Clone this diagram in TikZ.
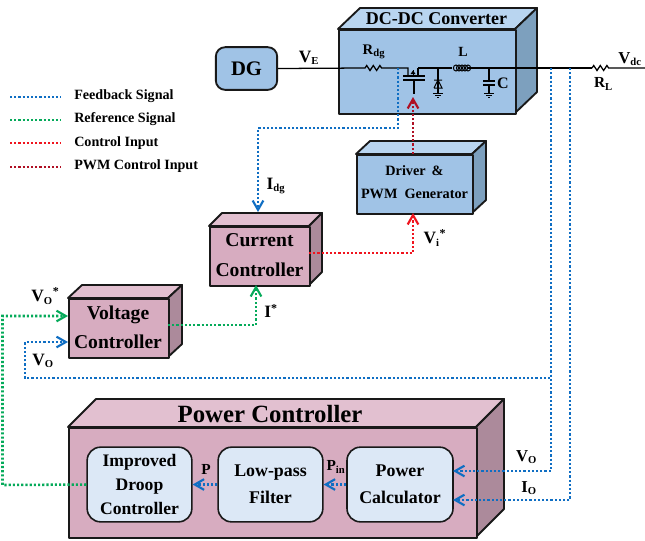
\documentclass[tikz,border=0pt]{standalone}
\usepackage{fontspec}
\setmainfont{Liberation Serif}[BoldFont={Liberation Serif Bold}]
\usetikzlibrary{arrows.meta,calc}
\definecolor{fbblue}{RGB}{15,110,195}
\definecolor{refgreen}{RGB}{5,170,90}
\definecolor{ctlred}{RGB}{240,20,30}
\definecolor{pwmred}{RGB}{175,15,35}
\definecolor{bluefront}{RGB}{160,195,230}
\definecolor{bluetop}{RGB}{185,213,240}
\definecolor{blueside}{RGB}{125,160,190}
\definecolor{pinkfront}{RGB}{215,172,192}
\definecolor{pinktop}{RGB}{226,192,208}
\definecolor{pinkside}{RGB}{172,138,155}
\definecolor{innerfill}{RGB}{220,232,246}
\tikzset{
  x=0.75pt,y=-0.75pt,
  cubeline/.style={draw=black!90,line width=1.4pt,line join=round},
  tips/.style={-{Straight Barb[length=7pt,width=8pt,line width=1.6pt]}},
  sig/.style={line width=1.9pt,dash pattern=on 1.6pt off 1.55pt},
  fb/.style={sig,draw=fbblue,tips},
  fbline/.style={sig,draw=fbblue},
  refsig/.style={sig,draw=refgreen,tips},
  ctl/.style={sig,draw=ctlred,tips},
  pwm/.style={sig,draw=pwmred,tips},
  wire/.style={draw=black,line width=0.95pt},
  thinwire/.style={draw=black,line width=0.75pt},
  lbl/.style={font=\bfseries,text=black,inner sep=0pt,align=center},
  inner box/.style={draw=black!90,line width=1.2pt,fill=innerfill,rounded corners=10pt,lbl},
  legendtxt/.style={lbl,anchor=west,font=\bfseries\fontsize{10.6}{11}\selectfont},
}
% name, x1,y1,x2,y2 (front face), dx,dy, colour prefix
\newcommand{\cubebox}[8]{%
  \path[cubeline,fill=#8top] (#2,#3) -- (#2+#6,#3-#7) -- (#4+#6,#3-#7) -- (#4,#3) -- cycle;
  \path[cubeline,fill=#8side] (#4,#3) -- (#4+#6,#3-#7) -- (#4+#6,#5-#7) -- (#4,#5) -- cycle;
  \node[cubeline,fill=#8front,rectangle,inner sep=0pt,minimum width={(#4-#2)*0.75pt},minimum height={(#5-#3)*0.75pt},anchor=north west] (#1) at (#2,#3) {};
}
\begin{document}
\begin{tikzpicture}
\useasboundingbox (0,0) rectangle (645,540);
\fill[white] (0,0) rectangle (645,540);
% ---------- boxes
\cubebox{conv}{338}{29}{515}{113}{22}{21}{blue}
\cubebox{drv}{356}{154}{472}{213}{14}{13}{blue}
\cubebox{cur}{209}{226}{309}{285}{13}{13}{pink}
\cubebox{volt}{68}{298}{168}{357}{14}{13}{pink}
\cubebox{pow}{68}{427}{476}{537}{28}{28}{pink}
\node[cubeline,fill=bluefront,rounded corners=7pt,minimum width=46pt,minimum height=32pt,lbl,font=\bfseries\fontsize{15.5}{15}\selectfont] (dg) at (246.5,68.5) {DG};
\node[inner box,minimum width=78.5pt,minimum height=56pt,font=\bfseries\fontsize{13.2}{18}\selectfont] (droop) at (139.5,484.5) {Improved\\Droop\\Controller};
\node[inner box,minimum width=78.5pt,minimum height=56pt,font=\bfseries\fontsize{13.4}{20}\selectfont] (lpf) at (270.5,484.5) {Low-pass\\Filter};
\node[inner box,minimum width=79.5pt,minimum height=56pt,font=\bfseries\fontsize{13.4}{20}\selectfont] (calc) at (400,484.5) {Power\\Calculator};
% ---------- titles in boxes
\node[lbl,font=\bfseries\fontsize{13.5}{14}\selectfont] (convt) at (436.5,19) {DC-DC Converter};
\node[lbl,font=\bfseries\fontsize{18.6}{18}\selectfont] (powt) at (270,414) {Power Controller};
\node[lbl,font=\bfseries\fontsize{10.7}{17.5}\selectfont] (drvt) at (414.5,182) {Driver~\,\&\\PWM~~Generator};
\node[lbl,font=\bfseries\fontsize{14.7}{22.5}\selectfont] (curt) at (259.5,255) {Current\\Controller};
\node[lbl,font=\bfseries\fontsize{14.7}{22}\selectfont] (voltt) at (118,327.5) {Voltage\\Controller};
% ---------- power wire and circuit
\coordinate (wR) at (645,68);
\coordinate (rdgA) at (363,68);
\coordinate (drain) at (408,68);
\coordinate (source) at (418,68);
\coordinate (ind) at (452,68);
\draw[wire] (dg.east) -- (rdgA) -- ++(2,0) -- ++(1.7,-2.5) -- ++(3.3,5) -- ++(3.3,-5) -- ++(3.3,5) -- ++(3.3,-5) -- ++(1.7,2.5) -- ++(2,0) -- (drain) -- (408,76);
\draw[wire] (source) -- (ind) (418,68) -- (418,76);
\draw[wire] (403,76) -- (425,76) (403,80) -- (425,80) (414,80) -- (414,94);
\fill[black] (413,70.5) -- (410.5,74) -- (415.5,74) -- cycle;
\draw[thinwire] (413,70) -- (413,76);
% diode
\coordinate (dtop) at (438,68);
\draw[wire] (dtop) -- (438,93);
\draw[thinwire] (434,80) -- (442,80) (434,88) -- (442,88) -- (438,80) -- (434,88);
\draw[thinwire] (433,93) -- (443,93) (435,95) -- (441,95) (437,97) -- (439,97);
% inductor
\foreach \i in {0,...,4} \draw[thinwire] (456+\i*3,68) circle[x radius=2.6,y radius=3];
\draw[wire] (468,68) -- (592,68);
% capacitor
\draw[wire] (489,68) -- (489,81) (483,81) -- (495,81) (483,85) -- (495,85) (489,85) -- (489,93);
\draw[thinwire] (484,93) -- (494,93) (486,95) -- (492,95) (488,97) -- (490,97);
% RL
\draw[wire] (592,68) -- ++(1.7,-2.5) -- ++(3.3,5) -- ++(3.3,-5) -- ++(3.3,5) -- ++(3.3,-5) -- ++(1.7,2.5) -- (wR);
% ---------- circuit labels
\node[lbl,font=\bfseries\fontsize{13}{13}\selectfont] (vE) at (309,58) {V\textsubscript{\fontsize{8}{8}\selectfont E}};
\node[lbl,font=\bfseries\fontsize{11}{11}\selectfont] (rdg) at (374,52) {R\textsubscript{\fontsize{8}{8}\selectfont dg}};
\node[lbl,font=\bfseries\fontsize{10.5}{10}\selectfont] (lL) at (463,52) {L};
\node[lbl,font=\bfseries\fontsize{12}{10}\selectfont] (lC) at (503,83) {C};
\node[lbl,font=\bfseries\fontsize{12.5}{13}\selectfont] (vdc) at (630,59) {V\textsubscript{\fontsize{8}{8}\selectfont dc}};
\node[lbl,font=\bfseries\fontsize{11.5}{12}\selectfont] (rL) at (603.5,84) {R\textsubscript{\fontsize{8}{8}\selectfont L}};
% ---------- signal junctions
\coordinate (jIdg) at (398,68);
\coordinate (jIdgB) at (258,128);
\coordinate (curIn) at (258,212);
\coordinate (jVo) at (551,68);
\coordinate (jVoB) at (25,378);
\coordinate (jIo) at (570,68);
\coordinate (gate) at (413,97);
\coordinate (drvOut) at (413,154);
\coordinate (drvIn) at (413,213);
\coordinate (curOut) at (309,253);
\coordinate (curInB) at (256,285);
\coordinate (voltOut) at (168,325);
\coordinate (voltIn) at (68,316);
\coordinate (voltFb) at (68,342);
\coordinate (jGr) at (2.5,485);
\coordinate (calcV) at (453,471);
\coordinate (calcI) at (453,500);
% ---------- signals
\draw[fb] (jIdg) |- (jIdgB) -- (curIn);
\draw[pwm] (drvOut) -- (gate);
\draw[ctl] (curOut) -| (drvIn);
\draw[refsig] (voltOut) -| (curInB);
\draw[refsig] (droop.west) -- (jGr) |- (voltIn);
\draw[fb] (jVo) |- (jVoB) |- (voltFb);
\draw[fb] (jVo) |- (calcV);
\draw[fb] (jIo) |- (calcI);
\draw[fb] (calc.west) -- (lpf.east);
\draw[fb] (lpf.west) -- (droop.east);
% ---------- signal labels
\node[lbl,font=\bfseries\fontsize{13}{13}\selectfont] (idg) at (276,186) {I\textsubscript{\fontsize{8}{8}\selectfont dg}};
\node[lbl,font=\bfseries\fontsize{13}{13}\selectfont] (vi) at (435,238) {V\textsubscript{\fontsize{8}{8}\selectfont i}\textsuperscript{\fontsize{9}{9}\selectfont *}};
\node[lbl,font=\bfseries\fontsize{13}{13}\selectfont] (ist) at (271,311) {I\textsuperscript{\fontsize{9}{9}\selectfont *}};
\node[lbl,font=\bfseries\fontsize{13}{13}\selectfont] (vost) at (45.5,296) {V\textsubscript{\fontsize{8}{8}\selectfont O}\textsuperscript{\fontsize{9}{9}\selectfont *}};
\node[lbl,font=\bfseries\fontsize{13}{13}\selectfont] (vo1) at (43,361) {V\textsubscript{\fontsize{8}{8}\selectfont O}};
\node[lbl,font=\bfseries\fontsize{11.5}{12}\selectfont] (pl) at (206,469) {P};
\node[lbl,font=\bfseries\fontsize{11.5}{12}\selectfont] (pin) at (336,467) {P\textsubscript{\fontsize{8}{8}\selectfont in}};
\node[lbl,font=\bfseries\fontsize{12.5}{13}\selectfont] (vo2) at (526.5,457) {V\textsubscript{\fontsize{8}{8}\selectfont O}};
\node[lbl,font=\bfseries\fontsize{12.5}{13}\selectfont] (io) at (529,488) {I\textsubscript{\fontsize{8}{8}\selectfont O}};
% ---------- legend
\coordinate (la) at (10,97); \coordinate (lb) at (61,97);
\coordinate (lc) at (10,120); \coordinate (ld) at (61,120);
\coordinate (le) at (10,143); \coordinate (lf) at (61,143);
\coordinate (lg) at (10,167); \coordinate (lh) at (61,167);
\draw[fbline] (la) -- (lb);
\draw[sig,draw=refgreen] (lc) -- (ld);
\draw[sig,draw=ctlred] (le) -- (lf);
\draw[sig,draw=pwmred] (lg) -- (lh);
\node[legendtxt] (l1) at (74,96) {Feedback Signal};
\node[legendtxt] (l2) at (74,119) {Reference Signal};
\node[legendtxt] (l3) at (74,143) {Control Input};
\node[legendtxt] (l4) at (74,166) {PWM Control Input};
\end{tikzpicture}
\end{document}
